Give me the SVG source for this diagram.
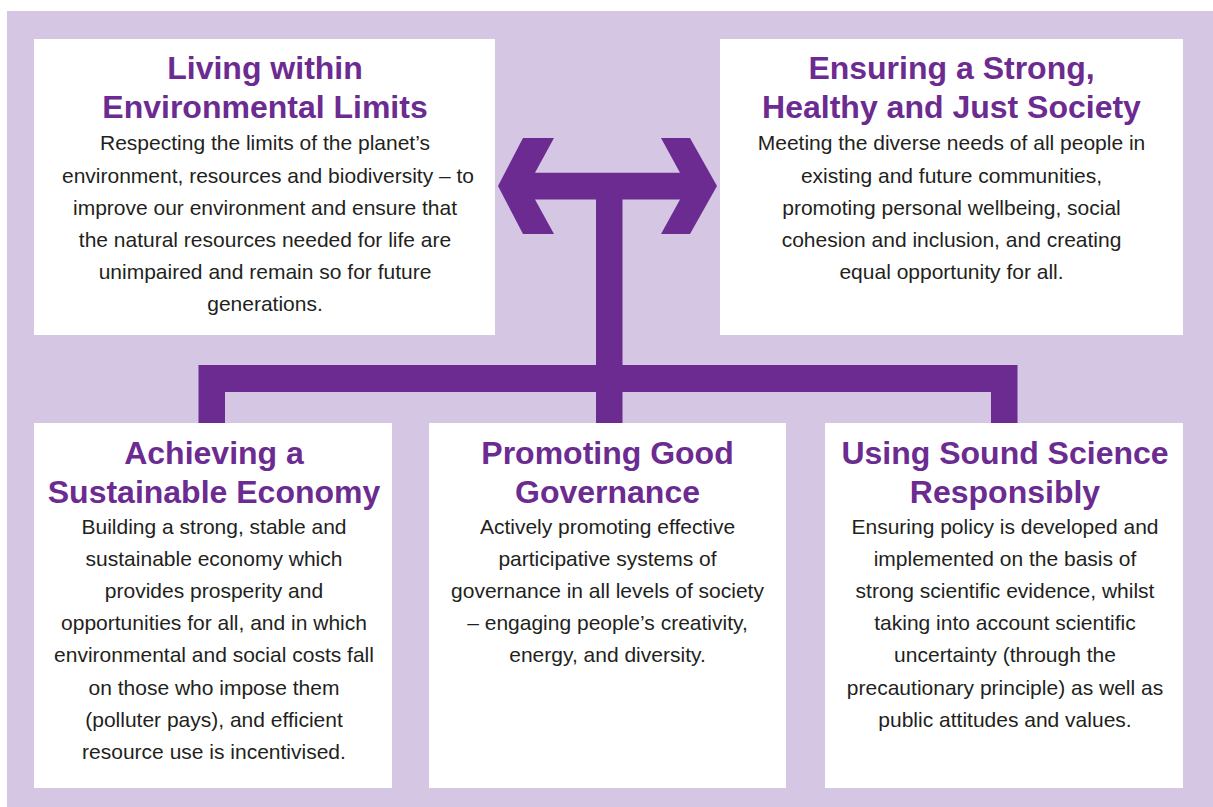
<svg xmlns="http://www.w3.org/2000/svg" width="1213" height="807" viewBox="0 0 1213 807">
<style>
.bg{fill:#D5C7E4}
.box{fill:#FFFFFF}
.conn{fill:#6C2B90}
.t{font-family:"Liberation Sans",Arial,sans-serif;font-weight:bold;font-size:32px;fill:#6C2B90;text-anchor:middle}
.b{font-family:"Liberation Sans",Arial,sans-serif;font-size:21px;fill:#231F20;text-anchor:middle}
</style>
<rect width="1213" height="807" fill="#FFFFFF"/>
<rect class="bg" x="7" y="11" width="1206" height="796"/>
<g id="connectors">
<polygon class="conn" points="498,186 523,138 554,138 535,172.7 680,172.7 661,138 690,138 717,186 690,234 661,234 680,199.5 622.5,199.5 622.5,365 1017.5,365 1017.5,423 991,423 991,392 622.5,392 622.5,423 596,423 596,392 225,392 225,423 198.5,423 198.5,365 596,365 596,199.5 535,199.5 554,234 523,234"/>
</g>
<g id="node-environment">
<rect class="box" x="34" y="39" width="461" height="296"/>
<text class="t" x="265" y="79">Living within</text>
<text class="t" x="265" y="118">Environmental Limits</text>
<text class="b" x="265" y="150">Respecting the limits of the planet’s</text>
<text class="b" x="268" y="183">environment, resources and biodiversity – to</text>
<text class="b" x="265" y="215">improve our environment and ensure that</text>
<text class="b" x="265" y="247">the natural resources needed for life are</text>
<text class="b" x="265" y="279">unimpaired and remain so for future</text>
<text class="b" x="265" y="311">generations.</text>
</g>
<g id="node-society">
<rect class="box" x="720" y="39" width="463" height="296"/>
<text class="t" x="951.5" y="79">Ensuring a Strong,</text>
<text class="t" x="951.5" y="118">Healthy and Just Society</text>
<text class="b" x="951.5" y="150">Meeting the diverse needs of all people in</text>
<text class="b" x="951.5" y="183">existing and future communities,</text>
<text class="b" x="951.5" y="215">promoting personal wellbeing, social</text>
<text class="b" x="951.5" y="247">cohesion and inclusion, and creating</text>
<text class="b" x="951.5" y="279">equal opportunity for all.</text>
</g>
<g id="node-economy">
<rect class="box" x="34" y="423" width="358" height="365"/>
<text class="t" x="214" y="464">Achieving a</text>
<text class="t" x="214" y="503">Sustainable Economy</text>
<text class="b" x="214" y="534">Building a strong, stable and</text>
<text class="b" x="214" y="566">sustainable economy which</text>
<text class="b" x="214" y="598">provides prosperity and</text>
<text class="b" x="214" y="630">opportunities for all, and in which</text>
<text class="b" x="214" y="662">environmental and social costs fall</text>
<text class="b" x="214" y="695">on those who impose them</text>
<text class="b" x="214" y="727">(polluter pays), and efficient</text>
<text class="b" x="214" y="759">resource use is incentivised.</text>
</g>
<g id="node-governance">
<rect class="box" x="429" y="423" width="357" height="365"/>
<text class="t" x="607.5" y="464">Promoting Good</text>
<text class="t" x="607.5" y="503">Governance</text>
<text class="b" x="607.5" y="534">Actively promoting effective</text>
<text class="b" x="607.5" y="566">participative systems of</text>
<text class="b" x="607.5" y="598">governance in all levels of society</text>
<text class="b" x="607.5" y="630">– engaging people’s creativity,</text>
<text class="b" x="607.5" y="662">energy, and diversity.</text>
</g>
<g id="node-science">
<rect class="box" x="825" y="423" width="358" height="365"/>
<text class="t" x="1005" y="464">Using Sound Science</text>
<text class="t" x="1005" y="503">Responsibly</text>
<text class="b" x="1005" y="534">Ensuring policy is developed and</text>
<text class="b" x="1005" y="566">implemented on the basis of</text>
<text class="b" x="1005" y="598">strong scientific evidence, whilst</text>
<text class="b" x="1005" y="630">taking into account scientific</text>
<text class="b" x="1005" y="662">uncertainty (through the</text>
<text class="b" x="1005" y="695">precautionary principle) as well as</text>
<text class="b" x="1005" y="727">public attitudes and values.</text>
</g>
</svg>
